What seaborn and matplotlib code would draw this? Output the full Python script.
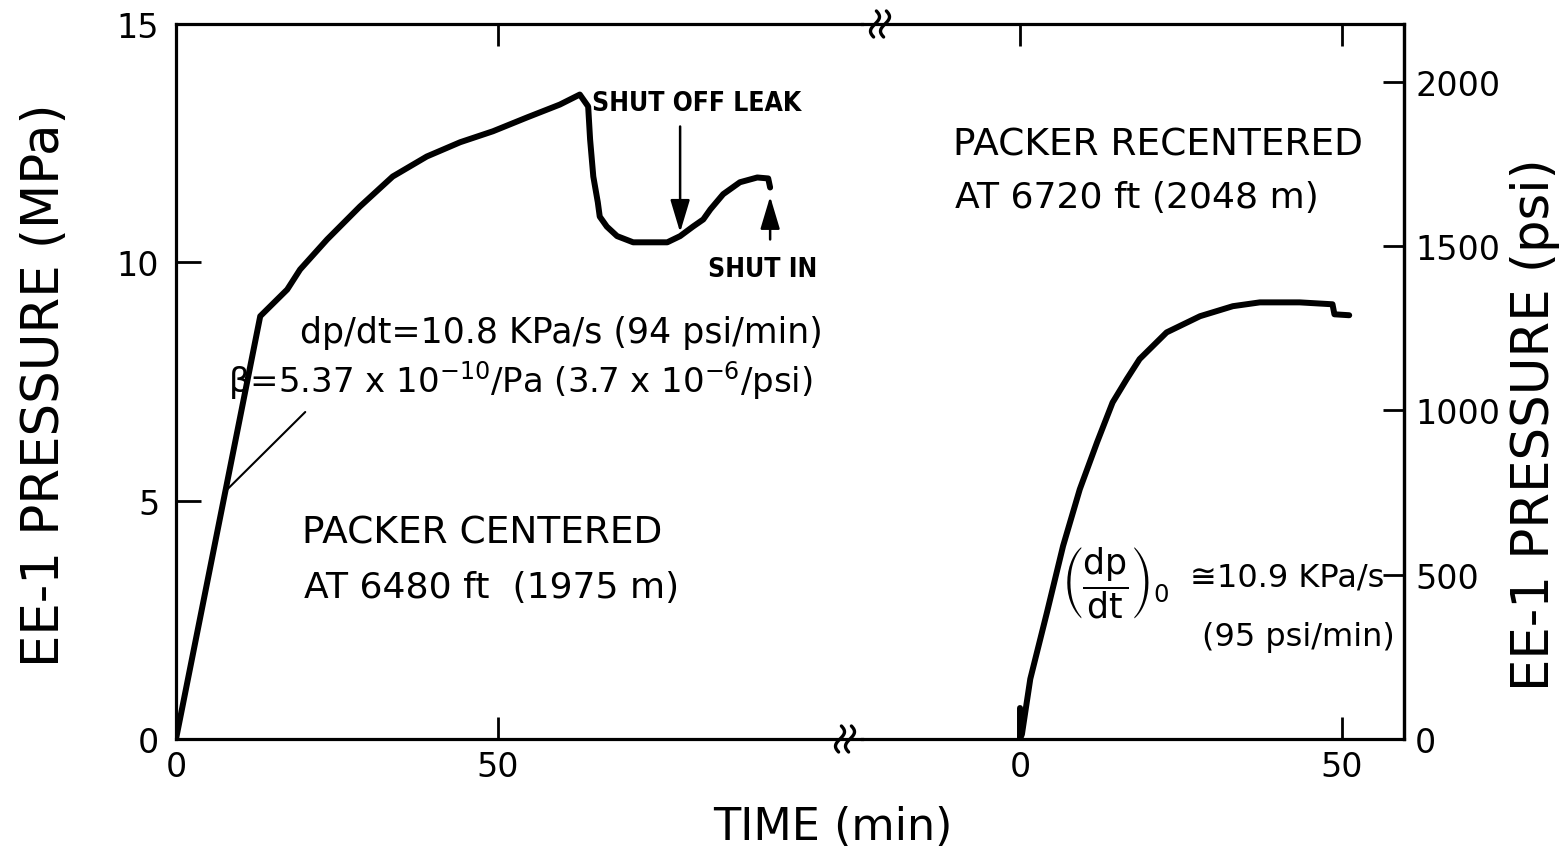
import numpy as np
import pandas as pd
import seaborn as sns
import matplotlib
matplotlib.use("Agg")
import matplotlib.pyplot as plt
from matplotlib import font_manager
from matplotlib.lines import Line2D

sns.set_theme(style="white")
plt.rcParams["font.family"] = ["DejaVu Sans"]
plt.rcParams["mathtext.fontset"] = "dejavusans"
plt.rcParams["mathtext.default"] = "regular"
plt.rcParams["text.color"] = "black"
plt.rcParams["axes.labelcolor"] = "black"
plt.rcParams["xtick.color"] = "black"
plt.rcParams["ytick.color"] = "black"

# ---------------- data ----------------
left_time = [0, 13.1, 17.3, 19.3, 23.5, 28.6, 33.7, 39.0, 44.2, 49.3, 54.6, 59.7,
             62.8, 64.1, 64.4, 64.9, 65.6, 65.9, 67.0, 68.6, 71.1, 76.4, 78.4,
             80.4, 82.0, 83.1, 85.1, 87.7, 90.4, 92.1, 92.4]
left_pressure = [0, 8.87, 9.43, 9.85, 10.48, 11.17, 11.80, 12.22, 12.52, 12.75, 13.04, 13.31,
                 13.52, 13.27, 12.58, 11.80, 11.26, 10.96, 10.75, 10.55, 10.42, 10.42, 10.55,
                 10.75, 10.90, 11.11, 11.43, 11.68, 11.78, 11.76, 11.57]

right_time = [0.0, 0.0, 0.3, 1.6, 4.2, 6.7, 9.3, 12.0, 14.4, 16.6, 18.6, 22.8, 28.0,
              33.1, 37.3, 43.5, 48.6, 48.9, 51.2]
right_pressure = [0.65, 0.0, 0.1, 1.26, 2.66, 4.05, 5.24, 6.23, 7.06, 7.55, 7.97, 8.53, 8.87,
                  9.08, 9.16, 9.16, 9.12, 8.91, 8.89]

time_ticks = [0, 50]
mpa_ticks = [0, 5, 10, 15]
psi_ticks = [0, 500, 1000, 1500, 2000]
PSI_PER_MPA = 145.0377

df_left = pd.DataFrame({"time": left_time, "pressure": left_pressure})
df_right = pd.DataFrame({"time": right_time, "pressure": right_pressure})

# ---------------- layout ----------------
W, H = 1565, 854
fig = plt.figure(figsize=(W / 100, H / 100), dpi=100)
fig.patch.set_facecolor("white")


def fx(px):
    return px / W


def fy(py):
    return 1 - py / H


x0, x_split, x1 = 176, 862, 1404
y_top, y_bot = 25, 740
ppm = 6.43  # pixels per minute
r0 = 1020   # pixel of right-panel time zero

ax1 = fig.add_axes([fx(x0), fy(y_bot), fx(x_split) - fx(x0), fy(y_top) - fy(y_bot)])
ax2 = fig.add_axes([fx(x_split), fy(y_bot), fx(x1) - fx(x_split), fy(y_top) - fy(y_bot)])
for a in (ax1, ax2):
    a.set_facecolor("none")
    a.grid(False)
    a.set_ylim(0, 15)

ax1.set_xlim(0, (x_split - x0) / ppm)
ax2.set_xlim((x_split - r0) / ppm, (x1 - r0) / ppm)

LW = 4.3
sns.lineplot(data=df_left, x="time", y="pressure", ax=ax1, color="black", lw=LW,
             sort=False, estimator=None, legend=False)
sns.lineplot(data=df_right, x="time", y="pressure", ax=ax2, color="black", lw=LW,
             sort=False, estimator=None, legend=False)
for a in (ax1, ax2):
    a.set_xlabel("")
    a.set_ylabel("")
    for l in a.get_lines():
        l.set_solid_joinstyle("round")
        l.set_solid_capstyle("round")

# spines
SPW = 2.3
for a in (ax1, ax2):
    for s in a.spines.values():
        s.set_color("black")
        s.set_linewidth(SPW)
ax1.spines["right"].set_visible(False)
ax2.spines["left"].set_visible(False)

TFS = 24
ax1.set_xticks(time_ticks)
ax1.set_xticklabels([str(t) for t in time_ticks])
ax1.set_yticks(mpa_ticks)
ax1.set_yticklabels([str(t) for t in mpa_ticks])
ax1.tick_params(axis="x", direction="in", length=16, width=2, top=True, bottom=True,
                labelsize=TFS, pad=8, colors="black")
ax1.tick_params(axis="y", direction="in", length=18, width=2, left=True, right=False,
                labelsize=TFS, pad=12, colors="black")

ax2.set_xticks(time_ticks)
ax2.set_xticklabels([str(t) for t in time_ticks])
ax2.tick_params(axis="x", direction="in", length=16, width=2, top=True, bottom=True,
                labelsize=TFS, pad=8, colors="black")

twin = ax2.twinx()
twin.set_ylim(0, 15 * PSI_PER_MPA)
twin.set_yticks(psi_ticks)
twin.set_yticklabels([str(t) for t in psi_ticks])
twin.tick_params(axis="y", direction="in", length=15, width=2, labelsize=TFS, pad=8,
                 colors="black", left=False, labelleft=False)
twin.grid(False)
for k, s in twin.spines.items():
    s.set_visible(k == "right")
    s.set_linewidth(SPW)
    s.set_color("black")
ax2.set_yticks([])
ax2.tick_params(axis="y", left=False, right=False, labelleft=False, labelright=False)

# axis labels
fig.text(fx(45), fy(385), "EE-1 PRESSURE (MPa)", rotation=90, ha="center", va="center",
         fontsize=37)
fig.text(fx(1535), fy(425), "EE-1 PRESSURE (psi)", rotation=90, ha="center", va="center",
         fontsize=37)
fig.text(fx(833), fy(828), "TIME (min)", ha="center", va="center", fontsize=32)


# axis-break marks
def brk(xp, yp):
    s = np.linspace(-1, 1, 40)
    for dx in (-5, 5):
        xs = fx(xp + dx - 4.5 * np.sin(np.pi * s * 0.9))
        ys = fy(yp + 13 * s)
        fig.add_artist(Line2D(xs, ys, color="black", lw=2.4, transform=fig.transFigure))


brk(845, y_bot)
brk(880, y_top)


# ---------------- annotations ----------------
def pick_narrow():
    cands = []
    for f in font_manager.fontManager.ttflist:
        nm = (f.name + " " + f.fname).lower()
        if ("narrow" in nm or "condensed" in nm or str(f.stretch) in
                ("condensed", "semi-condensed", "extra-condensed", "ultra-condensed")):
            if "mono" in nm or "serif" in nm.replace("sans-serif", "") and "sans" not in nm:
                continue
            score = 0
            if "bold" in nm or f.weight in ("bold", 700, "700"):
                score += 2
            if "italic" in nm or "oblique" in nm or f.style != "normal":
                score -= 5
            if "sans" in nm or "roboto" in nm:
                score += 1
            cands.append((score, f.fname))
    if cands:
        cands.sort(key=lambda c: -c[0])
        return font_manager.FontProperties(fname=cands[0][1])
    return font_manager.FontProperties(family="DejaVu Sans", weight="bold")


nfp = pick_narrow()
fp_leak = nfp.copy()
fp_leak.set_size(19)

ax1.text(81.0, 13.35, "SHUT OFF LEAK", ha="center", va="center", fontproperties=fp_leak)
ax1.text(91.3, 9.85, "SHUT IN", ha="center", va="center", fontproperties=fp_leak)
ax1.annotate("", xy=(78.4, 10.63), xytext=(78.4, 12.85),
             arrowprops=dict(arrowstyle="-|>,head_length=1.0,head_width=0.3",
                             color="black", lw=1.8, mutation_scale=20, shrinkA=0, shrinkB=0))
ax1.annotate("", xy=(92.4, 11.38), xytext=(92.4, 10.48),
             arrowprops=dict(arrowstyle="-|>,head_length=1.0,head_width=0.3",
                             color="black", lw=1.8, mutation_scale=20, shrinkA=0, shrinkB=0))

ax1.text(19.3, 8.53, "dp/dt=10.8 KPa/s (94 psi/min)", ha="left", va="center", fontsize=25)
ax1.text(8.1, 7.55, "β=5.37 x 10$^{-10}$/Pa (3.7 x 10$^{-6}$/psi)", ha="left",
         va="center", fontsize=24.5)
ax1.plot([20.1, 7.7], [6.86, 5.2], color="black", lw=1.5)

ax1.text(19.6, 4.34, "PACKER CENTERED", ha="left", va="center", fontsize=27)
ax1.text(19.9, 3.19, "AT 6480 ft  (1975 m)", ha="left", va="center", fontsize=26)

ax2.text(-10.4, 12.47, "PACKER RECENTERED", ha="left", va="center", fontsize=27)
ax2.text(-10.1, 11.38, "AT 6720 ft (2048 m)", ha="left", va="center", fontsize=26)

ax2.text(6.3, 3.3, r"$\left(\dfrac{\mathrm{dp}}{\mathrm{dt}}\right)_0$", ha="left",
         va="center", fontsize=25)
ax2.text(26.4, 3.4, "≅10.9 KPa/s", ha="left", va="center", fontsize=23)
ax2.text(28.3, 2.16, "(95 psi/min)", ha="left", va="center", fontsize=23)

fig.savefig("out.png", dpi=100, facecolor="white")
